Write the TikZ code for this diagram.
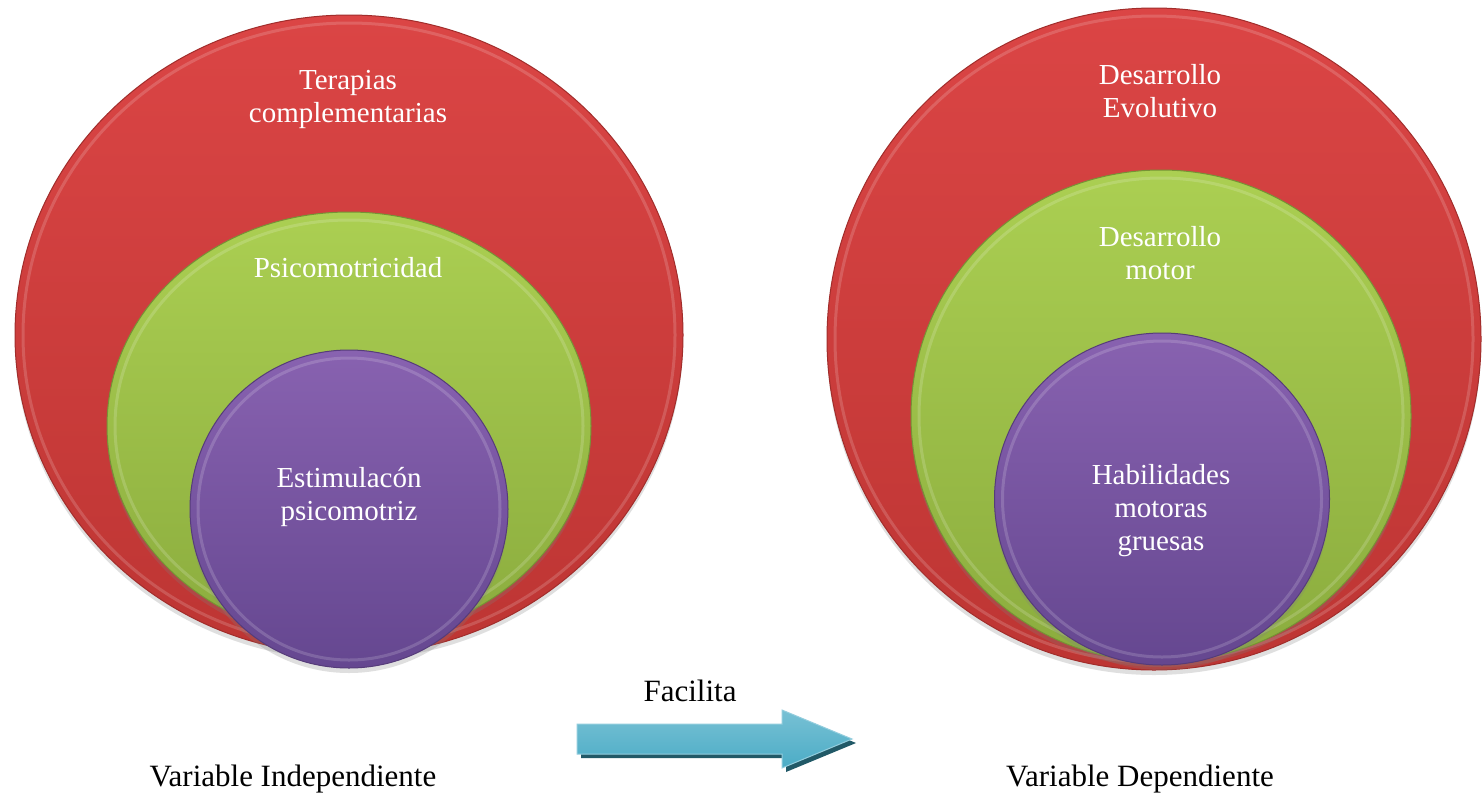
\documentclass[tikz,border=0pt]{standalone}
\usepackage{fontspec}
\setmainfont{Liberation Serif}
\usetikzlibrary{shapes.geometric,shadows}

\definecolor{redtop}{HTML}{DB4545}
\definecolor{redbot}{HTML}{BD3533}
\definecolor{greentop}{HTML}{ABCF52}
\definecolor{greenbot}{HTML}{8BAC3E}
\definecolor{violettop}{HTML}{8862B0}
\definecolor{violetbot}{HTML}{654790}
\definecolor{aqua}{HTML}{4BACC6}
\definecolor{aquadark}{HTML}{215967}

\newcommand{\facilitashape}{(577,724) -- (782,724) -- (782,710) -- (852,739)
  -- (782,768) -- (782,754) -- (577,754) -- cycle}

\begin{document}
\begin{tikzpicture}[x=1pt,y=-1pt,
    disc/.style={ellipse,inner sep=0pt,outer sep=0pt,line width=1pt,
      draw=#1bot!85!black,top color=#1top,bottom color=#1bot,
      drop shadow={shadow xshift=0pt,shadow yshift=-5pt,opacity=0.25}},
    rim/.style={ellipse,inner sep=0pt,draw=white,line width=3pt,opacity=0.16},
    disctext/.style={text=white,align=center,inner sep=0pt,
      font=\fontsize{29}{33}\selectfont},
    caption/.style={inner sep=0pt,anchor=base,font=\fontsize{31}{36}\selectfont}]
  \useasboundingbox[fill=white] (0,0) rectangle (1483,793);

  \node[disc=red,minimum width=668pt,minimum height=640pt] (redL) at (349,335) {};
  \node[rim,minimum width=652pt,minimum height=624pt] (redLrim) at (redL) {};
  \node[disc=green,minimum width=484pt,minimum height=428pt] (greenL) at (349,426) {};
  \node[rim,minimum width=468pt,minimum height=412pt] (greenLrim) at (greenL) {};
  \node[disc=violet,minimum width=318pt,minimum height=318pt] (violetL) at (349,509) {};
  \node[rim,minimum width=302pt,minimum height=302pt] (violetLrim) at (violetL) {};

  \node[disc=red,minimum width=654pt,minimum height=662pt] (redR) at (1154,339) {};
  \node[rim,minimum width=638pt,minimum height=646pt] (redRrim) at (redR) {};
  \node[disc=green,minimum width=500pt,minimum height=492pt] (greenR) at (1161,416) {};
  \node[rim,minimum width=484pt,minimum height=476pt] (greenRrim) at (greenR) {};
  \node[disc=violet,minimum width=335pt,minimum height=332pt] (violetR) at (1162,499) {};
  \node[rim,minimum width=319pt,minimum height=316pt] (violetRrim) at (violetR) {};

  \node[disctext] (terapias) at (348,99) {Terapias\\complementarias};
  \node[disctext] (psicomotricidad) at (348,268) {Psicomotricidad};
  \node[disctext] (estimulacion) at (349,497) {Estimulacón\\psicomotriz};
  \node[disctext] (evolutivo) at (1160,91) {Desarrollo\\Evolutivo};
  \node[disctext] (motor) at (1160,253) {Desarrollo\\motor};
  \node[disctext] (habilidades) at (1161,511) {Habilidades\\motoras\\gruesas};

  \fill[aquadark,shift={(4,4)}] \facilitashape;
  \path[draw=aqua!60!white,line width=1pt,top color=aqua!75!white,
    bottom color=aqua] \facilitashape;

  \node[caption] (facilita) at (690,701) {Facilita};
  \node[caption] (indep) at (293,786) {Variable Independiente};
  \node[caption] (dep) at (1140,786) {Variable Dependiente};
\end{tikzpicture}
\end{document}
